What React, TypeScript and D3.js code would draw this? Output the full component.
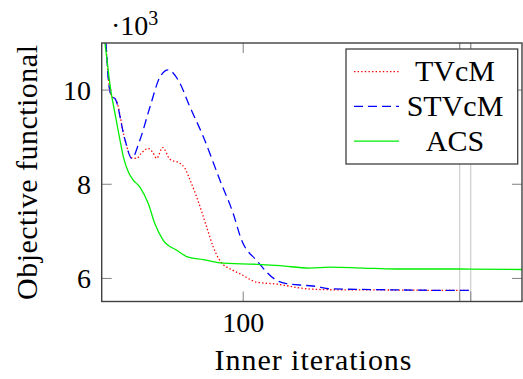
import * as d3 from "d3";

// x values (inner iterations) and objective values (·10^3)
const tvcmIter = [1, 3, 4.7, 7.1, 10, 16.5, 21.2, 24.7, 28, 32.9, 36, 38.8, 43.1, 48.2, 55, 59, 62.4, 67.1, 74.2, 78.8, 83.5, 92.9, 97.7, 109.5, 123.6, 144.8, 161, 200, 253, 260];
const tvcmValue = [11.6, 11.0, 10.25, 9.87, 9.8, 8.94, 8.56, 8.55, 8.66, 8.76, 8.68, 8.55, 8.78, 8.53, 8.45, 8.33, 8.09, 7.73, 7.09, 6.67, 6.38, 6.17, 6.1, 5.92, 5.88, 5.78, 5.76, 5.755, 5.745, 5.745];

const stvcmIter = [1, 3, 4.7, 7.1, 9.4, 16.5, 21.2, 27, 34.1, 41.2, 47, 54.1, 62.4, 71.8, 83.5, 92.9, 98.9, 109.5, 123.6, 130.6, 144.8, 151.8, 161, 200, 253, 260];
const stvcmValue = [11.6, 11.0, 10.21, 9.86, 9.82, 8.94, 8.55, 8.94, 9.64, 10.28, 10.43, 10.21, 9.64, 9.01, 8.09, 7.38, 6.81, 6.38, 5.96, 5.89, 5.85, 5.83, 5.78, 5.76, 5.745, 5.745];

const acsIter = [1, 2.3, 6.4, 9.4, 12.9, 15.3, 19, 22.3, 27, 32.9, 37.6, 43.5, 53, 61.2, 71.8, 83.5, 109.5, 126, 147, 161, 184.5, 208, 253, 297];
const acsValue = [11.3, 11.0, 10.0, 9.5, 8.94, 8.58, 8.25, 8.09, 7.94, 7.59, 7.16, 6.81, 6.6, 6.45, 6.4, 6.33, 6.3, 6.27, 6.22, 6.24, 6.22, 6.2, 6.2, 6.19];

const xTicks = [100];
const xExtraTicks = [253, 260.8];
const yTicks = [6, 8, 10];

const series = [
  { name: "TVcM", iter: tvcmIter, value: tvcmValue, color: "#ff0000", dash: "1.4,2.2", width: 1.3 },
  { name: "STVcM", iter: stvcmIter, value: stvcmValue, color: "#0000ff", dash: "9,5", width: 1.3 },
  { name: "ACS", iter: acsIter, value: acsValue, color: "#00ee00", dash: "none", width: 1.3 },
];

const W = 523;
const H = 379;
const left = 101.7;
const right = 522;
const top = 43;
const bottom = 301.5;
const FONT = "Liberation Serif, DejaVu Serif, serif";
const txt = { fontFamily: FONT };

export default function App() {
  const x = d3.scaleLinear().domain([0, 297]).range([left, right]);
  const y = d3.scaleLinear().domain([5.51, 11.0]).range([bottom, top]);
  const line = d3
    .line<[number, number]>()
    .x((d) => x(d[0]))
    .y((d) => y(d[1]))
    .curve(d3.curveMonotoneX);

  const tickLen = 10;

  return (
    <svg
      width={W}
      height={H}
      style={{ position: "absolute", left: 0, top: 0, background: "#fff", fontFamily: FONT }}
    >
      <defs>
        <clipPath id="plot-clip">
          <rect x={left} y={top} width={right - left} height={bottom - top} />
        </clipPath>
      </defs>

      {/* extra ticks with grid lines */}
      {xExtraTicks.map((t) => (
        <g key={t}>
          <line x1={x(t)} x2={x(t)} y1={top} y2={bottom} stroke="#c4c4c4" strokeWidth={1} />
          <line x1={x(t)} x2={x(t)} y1={bottom} y2={bottom - tickLen} stroke="#808080" strokeWidth={1} />
          <line x1={x(t)} x2={x(t)} y1={top} y2={top + tickLen} stroke="#808080" strokeWidth={1} />
        </g>
      ))}

      {/* series */}
      <g clipPath="url(#plot-clip)">
        {series.map((s) => (
          <path
            key={s.name}
            d={line(s.iter.map((v, i) => [v, s.value[i]] as [number, number])) ?? ""}
            fill="none"
            stroke={s.color}
            strokeWidth={s.width}
            strokeDasharray={s.dash}
          />
        ))}
      </g>

      {/* ticks */}
      {xTicks.map((t) => (
        <g key={t}>
          <line x1={x(t)} x2={x(t)} y1={bottom} y2={bottom - tickLen} stroke="#808080" strokeWidth={1} />
          <line x1={x(t)} x2={x(t)} y1={top} y2={top + tickLen} stroke="#808080" strokeWidth={1} />
          <text x={x(t)} y={331.5} textAnchor="middle" fontSize={28} fill="#000" style={txt}>
            {t}
          </text>
        </g>
      ))}
      {yTicks.map((t) => (
        <g key={t}>
          <line x1={left} x2={left + tickLen} y1={y(t)} y2={y(t)} stroke="#808080" strokeWidth={1} />
          <line x1={right} x2={right - tickLen} y1={y(t)} y2={y(t)} stroke="#808080" strokeWidth={1} />
          <text x={91} y={y(t) + 10} textAnchor="end" fontSize={28} fill="#000" style={txt}>
            {t}
          </text>
        </g>
      ))}

      {/* frame */}
      <rect
        x={left}
        y={top}
        width={right - left}
        height={bottom - top}
        fill="none"
        stroke="#404040"
        strokeWidth={1.4}
      />

      {/* scale label */}
      <text x={111} y={35} fontSize={28} fill="#000" style={txt}>
        ·10
        <tspan fontSize={20} dy={-10}>
          3
        </tspan>
      </text>

      {/* axis labels */}
      <text x={313} y={370} textAnchor="middle" fontSize={30} textLength={197} lengthAdjust="spacing" fill="#000" style={txt}>
        Inner iterations
      </text>
      <text
        transform={`translate(37,172.5) rotate(-90)`}
        textAnchor="middle"
        fontSize={30}
        textLength={255}
        lengthAdjust="spacing"
        fill="#000"
        style={txt}
      >
        Objective functional
      </text>

      {/* legend */}
      <rect x={346} y={49} width={171.7} height={115} fill="#fff" stroke="#404040" strokeWidth={1.3} />
      {series.map((s, i) => {
        const cy = 71.7 + i * 34.7;
        return (
          <g key={s.name}>
            <line
              x1={354}
              x2={399}
              y1={cy}
              y2={cy}
              stroke={s.color}
              strokeWidth={s.width}
              strokeDasharray={s.dash}
            />
            <text x={455} y={cy + 9.5} textAnchor="middle" fontSize={30} fill="#000" style={txt}>
              {s.name}
            </text>
          </g>
        );
      })}
    </svg>
  );
}
